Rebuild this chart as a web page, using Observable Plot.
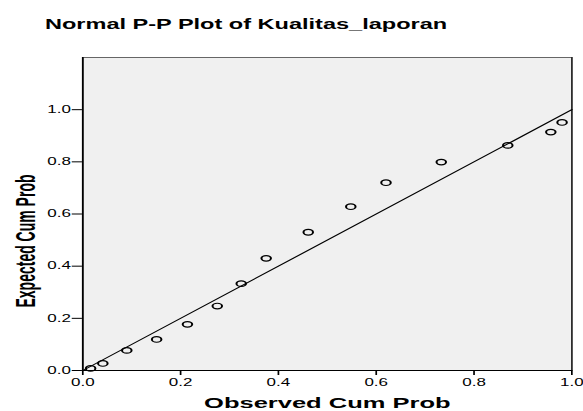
<!DOCTYPE html>
<html><head><meta charset="utf-8">
<script src="https://cdn.jsdelivr.net/npm/d3@7"></script>
<script src="https://cdn.jsdelivr.net/npm/@observablehq/plot@0.6"></script>
<style>
body{margin:0;background:#fff;font-family:"Liberation Sans",Arial,sans-serif;}
#wrap{position:relative;width:583px;height:411px;overflow:hidden;background:#fff;}
#title{position:absolute;left:45px;top:16px;font-weight:bold;font-size:14px;line-height:16px;transform:scaleX(1.68);transform-origin:0 0;white-space:nowrap;color:#000;}
#ylabel{position:absolute;left:25px;top:241px;font-weight:bold;font-size:14px;line-height:14px;white-space:nowrap;color:#000;transform:translate(-50%,-50%) scaleX(1.95) rotate(-90deg);}
#chart{position:absolute;left:0;top:40px;}
</style></head><body>
<div id="wrap"><div id="title"></div><div id="chart"></div><div id="ylabel"></div></div>
<script>
const titleText = "Normal P-P Plot of Kualitas_laporan";
const xLabel = "Observed Cum Prob";
const yLabel = "Expected Cum Prob";
const observed = [0.016, 0.041, 0.090, 0.151, 0.214, 0.275, 0.324, 0.375, 0.461, 0.548, 0.620, 0.733, 0.869, 0.957, 0.980];
const expected = [0.008, 0.027, 0.077, 0.119, 0.177, 0.247, 0.333, 0.430, 0.530, 0.628, 0.720, 0.799, 0.863, 0.914, 0.951];
const refX = [0, 1];
const refY = [0, 1];
const xTicks = [0, 0.2, 0.4, 0.6, 0.8, 1.0];
const yTicks = [0, 0.2, 0.4, 0.6, 0.8, 1.0];

document.getElementById("title").textContent = titleText;
document.getElementById("ylabel").textContent = yLabel;

const S = 1.7;           // horizontal stretch of the original picture
const W = 583 / S;
const H = 371;
const pts = observed.map((o, i) => ({o, e: expected[i]}));
const ref = refX.map((x, i) => ({x, y: refY[i]}));

const chart = Plot.plot({
  width: W, height: H,
  marginLeft: 48.2, marginRight: W - 571 / S, marginTop: 17, marginBottom: 41,
  style: {fontFamily: "Liberation Sans, Arial, sans-serif", fontSize: "10px", background: "transparent", color: "#000"},
  x: {domain: [0, 1]},
  y: {domain: [0, 1.2]},
  marks: [
    Plot.frame({fill: "#f0f0f0", stroke: "#666", strokeWidth: 1}),
    Plot.axisX({ticks: xTicks, tickFormat: d3.format(".1f"), tickSize: 5, tickPadding: 3.5, label: null, stroke: "#000"}),
    Plot.axisY({ticks: yTicks, tickFormat: d3.format(".1f"), tickSize: 6, tickPadding: 1, label: null, stroke: "#000"}),
    Plot.ruleX([0], {stroke: "#000", strokeWidth: 1}),
    Plot.ruleX([1], {stroke: "#222", strokeWidth: 0.8}),
    Plot.ruleY([0], {stroke: "#000", strokeWidth: 1.2}),
    Plot.line(ref, {x: "x", y: "y", stroke: "#000", strokeWidth: 1}),
    Plot.dot(pts, {x: "o", y: "e", r: 2.8, stroke: "#000", strokeWidth: 1.2, fill: "none"}),
    Plot.text([xLabel], {frameAnchor: "bottom", lineAnchor: "top", dy: 27, fontSize: 15, fontWeight: "bold"})
  ]
});
chart.setAttribute("width", 583);
chart.setAttribute("height", H);
chart.setAttribute("preserveAspectRatio", "none");
chart.style.width = "583px";
chart.style.height = H + "px";
chart.style.maxWidth = "none";
document.getElementById("chart").appendChild(chart);
</script>
</body></html>
